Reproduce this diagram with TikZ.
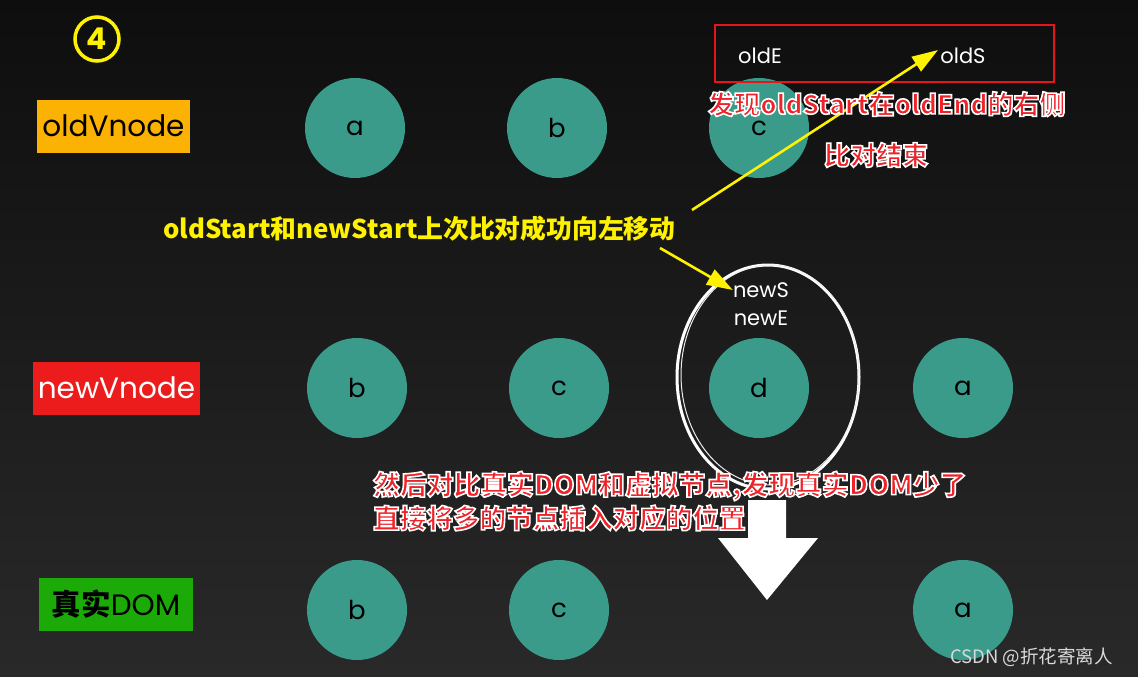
\documentclass[tikz,border=0pt]{standalone}
\usepackage{fontspec}
\setmainfont{Poppins}
\newfontfamily\cjk{Noto Sans CJK SC}
\usetikzlibrary{arrows.meta,shapes.geometric}
\definecolor{bgtop}{HTML}{0E0E0E}
\definecolor{bgbot}{HTML}{292929}
\definecolor{vteal}{HTML}{3A9B8B}
\definecolor{labor}{HTML}{FBB203}
\definecolor{labrd}{HTML}{EC1C1C}
\definecolor{labgr}{HTML}{1CAA08}
\definecolor{ylw}{HTML}{FFF200}
\definecolor{rtxt}{HTML}{EE2229}
\definecolor{boxred}{HTML}{E8141C}
\newcommand{\whiteoutline}{\special{pdf:code 2 Tr 1.6 w 1 1 1 RG}}
\tikzset{
  vn/.style={circle, fill=vteal, minimum size=100pt, inner sep=0pt, text=black, font=\fontsize{26}{26}\selectfont},
  lab/.style={inner sep=0pt, minimum height=53pt, font=\fontsize{29.5}{29.5}\selectfont},
  wtxt/.style={text=white, inner sep=0pt, font=\fontsize{21}{21}\selectfont},
  ytxt/.style={text=ylw, inner sep=0pt, anchor=west, font=\cjk\bfseries\fontsize{25.8}{25.8}\selectfont},
  rtext/.style={text=rtxt, inner sep=0pt, anchor=west, font=\cjk\bfseries\fontsize{26}{26}\selectfont},
  yarrow/.style={draw=ylw, line width=2.6pt, -{Triangle[length=26pt,width=17pt]}}
}
\begin{document}
\begin{tikzpicture}[x=1pt,y=-1pt]
\shade[top color=bgtop,bottom color=bgbot] (0,0) rectangle (1138,677);
\useasboundingbox (0,0) rectangle (1138,677);

% circled number
\node[circle, draw=ylw, line width=3.5pt, minimum size=44pt, inner sep=0pt, text=ylw, font=\bfseries\fontsize{30}{30}\selectfont] (num) at (97,39) {4};

% row labels
\node[lab, fill=labor, text=black, minimum width=153pt] (oldlab) at (113.5,126) {oldVnode};
\node[lab, fill=labrd, text=white, minimum width=167pt] (newlab) at (116.5,388) {newVnode};
\node[lab, fill=labgr, text=black, minimum width=154pt] (domlab) at (116,604) {{\cjk\bfseries 真实}DOM};

% old row
\node[vn] (oa) at (355,128) {a};
\node[vn] (ob) at (557,128) {b};
\node[vn] (oc) at (759,128) {c};

% new row
\node[vn] (nb) at (357,388) {b};
\node[vn] (nc) at (559,388) {c};
\node[vn] (nd) at (759,388) {d};
\node[vn] (na) at (963,388) {a};

% real DOM row
\node[vn] (db) at (357,610) {b};
\node[vn] (dc) at (559,610) {c};
\node[vn] (da) at (963,610) {a};

% red box with oldE / oldS
\draw[boxred, line width=2.2pt] (715,25) rectangle (1054,82);
\node[wtxt] (oldE) at (760,56) {oldE};
\node[wtxt] (oldS) at (963,56) {oldS};

% hand drawn circle
\node[draw=white, line width=3pt, ellipse, minimum width=182pt, minimum height=224pt, inner sep=0pt] (ring) at (768,377) {};
\draw[white!85!gray, line width=1pt] (770,375) ellipse [x radius=89, y radius=110];
\node[wtxt] (newS) at (761,290) {newS};
\node[wtxt] (newE) at (761,318) {newE};

% yellow text and arrows
\node[ytxt] (ytext) at (163,229) {oldStart和newStart上次比对成功向左移动};
\coordinate (a1s) at (692,210);
\coordinate (a1e) at (938,50);
\draw[yarrow] (a1s) -- (a1e);
\coordinate (a2s) at (660,248);
\draw[yarrow] (a2s) -- (newS.west);

% white down arrow
\fill[white] (748,500) -- (786,500) -- (786,538) -- (818,538) -- (767,600) -- (718,538) -- (748,538) -- cycle;

% red outlined texts
\node[rtext] (r1) at (708,104) {\whiteoutline 发现oldStart在oldEnd的右侧};
\node[rtext] (r2) at (824,155) {\whiteoutline 比对结束};
\node[rtext, font=\cjk\bfseries\fontsize{26.8}{26.8}\selectfont] (r3) at (373,486) {\whiteoutline 然后对比真实DOM和虚拟节点,发现真实DOM少了};
\node[rtext, font=\cjk\bfseries\fontsize{26.6}{26.6}\selectfont] (r4) at (373,518) {\whiteoutline 直接将多的节点插入对应的位置};

% watermark
\node[text=white!70!gray, inner sep=0pt, anchor=west, font=\cjk\fontsize{18.5}{18.5}\selectfont] (wm) at (950,657) {CSDN @折花寄离人};
\end{tikzpicture}
\end{document}
